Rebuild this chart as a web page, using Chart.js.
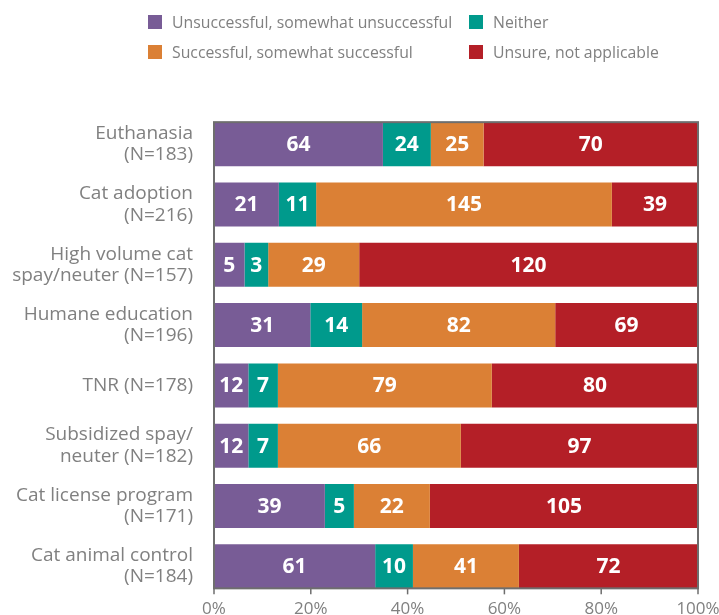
<!DOCTYPE html>
<html>
<head>
<meta charset="utf-8">
<script src="https://cdn.jsdelivr.net/npm/chart.js@4/dist/chart.umd.min.js"></script>
<style>
  html, body { margin: 0; padding: 0; background: #fff; }
  #wrap { position: relative; width: 719px; height: 615px; }
  #legenda { position: absolute; left: 0; top: 0; width: 719px; height: 70px; font-family: "Open Sans", sans-serif; font-size: 15.8px; color: #808080; }
  .leg-item { position: absolute; display: flex; align-items: center; height: 20px; white-space: nowrap; }
  .leg-box { width: 14px; height: 14px; margin-right: 10px; }
</style>
</head>
<body>
<div id="wrap">
  <canvas id="grafico" width="719" height="615"></canvas>
  <div id="legenda"></div>
</div>
<script>
// dados
const categorias = [
  ["Euthanasia", "(N=183)"],
  ["Cat adoption", "(N=216)"],
  ["High volume cat", "spay/neuter (N=157)"],
  ["Humane education", "(N=196)"],
  "TNR (N=178)",
  ["Subsidized spay/", "neuter (N=182)"],
  ["Cat license program", "(N=171)"],
  ["Cat animal control", "(N=184)"]
];

const series = [
  "Unsuccessful, somewhat unsuccessful",
  "Neither",
  "Successful, somewhat successful",
  "Unsure, not applicable"
];
const cores = ["#785C96", "#009A8C", "#DB8035", "#B41F27"];

// contagens (rótulos das barras)
const nMalSucedido = [64, 21, 5, 31, 12, 12, 39, 61];
const nNenhum      = [24, 11, 3, 14, 7, 7, 5, 10];
const nSucedido    = [25, 145, 29, 82, 79, 66, 22, 41];
const nIncerto     = [70, 39, 120, 69, 80, 97, 105, 72];

// percentuais (largura dos segmentos)
const pMalSucedido = [34.9, 13.4, 6.3, 19.9, 7.1, 7.1, 22.9, 33.3];
const pNenhum      = [9.9, 7.7, 4.9, 10.7, 6.1, 6.1, 6.0, 7.8];
const pSucedido    = [10.9, 61.1, 18.8, 39.9, 44.2, 37.8, 15.7, 21.9];
const pIncerto     = [44.3, 17.8, 70.0, 29.5, 42.6, 49.0, 55.4, 37.0];

const ticksX = [0, 20, 40, 60, 80, 100];

const contagens = [nMalSucedido, nNenhum, nSucedido, nIncerto];
const percentuais = [pMalSucedido, pNenhum, pSucedido, pIncerto];

// legenda em HTML (2 colunas)
const legPos = [
  { x: 148, y: 12 }, { x: 469, y: 12 },
  { x: 148, y: 42 }, { x: 469, y: 42 }
];
const legEl = document.getElementById("legenda");
series.forEach((nome, i) => {
  legEl.innerHTML += `<div class="leg-item" style="left:${legPos[i].x}px; top:${legPos[i].y}px;"><div class="leg-box" style="background:${cores[i]}"></div>${nome}</div>`;
});

// rótulos dentro das barras + moldura
const pluginExtras = {
  id: "extras",
  afterDatasetsDraw(chart) {
    const ctx = chart.ctx;
    ctx.save();
    ctx.fillStyle = "#fff";
    ctx.font = "bold 21px 'Open Sans', sans-serif";
    ctx.textAlign = "center";
    ctx.textBaseline = "middle";
    chart.data.datasets.forEach((ds, di) => {
      const meta = chart.getDatasetMeta(di);
      meta.data.forEach((bar, i) => {
        const p = bar.getProps(["x", "y", "base"], true);
        ctx.fillText(String(contagens[di][i]), (p.x + p.base) / 2, p.y + 1);
      });
    });

    // moldura
    const meta0 = chart.getDatasetMeta(0);
    const primeiro = meta0.data[0].getProps(["y", "height"], true);
    const ultimo = meta0.data[meta0.data.length - 1].getProps(["y", "height"], true);
    const topo = primeiro.y - primeiro.height / 2;
    const base = ultimo.y + ultimo.height / 2;
    const xs = chart.scales.x;
    ctx.strokeStyle = "#6e6e6e";
    ctx.lineWidth = 2;
    ctx.strokeRect(xs.left, topo, xs.right - xs.left, base - topo);
    ctx.lineWidth = 1.5;
    ticksX.forEach(v => {
      const px = xs.getPixelForValue(v);
      ctx.beginPath();
      ctx.moveTo(px, base);
      ctx.lineTo(px, base + 6);
      ctx.stroke();
    });
    ctx.restore();
  }
};

const datasets = series.map((nome, i) => ({
  label: nome,
  data: percentuais[i],
  backgroundColor: cores[i],
  borderWidth: 0,
  barPercentage: 0.7295,
  categoryPercentage: 1
}));

new Chart(document.getElementById("grafico"), {
  type: "bar",
  data: { labels: categorias, datasets },
  plugins: [pluginExtras],
  options: {
    indexAxis: "y",
    responsive: false,
    animation: false,
    layout: { padding: { top: 114, right: 21, left: 0, bottom: 0 } },
    plugins: { legend: { display: false }, tooltip: { enabled: false } },
    scales: {
      x: {
        stacked: true,
        min: 0,
        max: 100,
        afterBuildTicks: (s) => { s.ticks = ticksX.map(v => ({ value: v })); },
        afterFit: (s) => { s.height = 18.5; s.paddingLeft = 0; s.paddingRight = 0; },
        grid: { display: false, drawTicks: false },
        border: { display: false },
        ticks: {
          padding: 2,
          maxRotation: 0,
          color: "#808080",
          font: { family: "'Open Sans', sans-serif", size: 17 },
          callback: (v) => v + "%"
        }
      },
      y: {
        stacked: true,
        afterFit: (s) => { s.width = 214; s.paddingTop = 0; s.paddingBottom = 0; },
        grid: { display: false, drawTicks: false },
        border: { display: false },
        ticks: {
          padding: 21,
          color: "#808080",
          font: { family: "'Open Sans', sans-serif", size: 19, lineHeight: 1.12 }
        }
      }
    }
  }
});
</script>
</body>
</html>
